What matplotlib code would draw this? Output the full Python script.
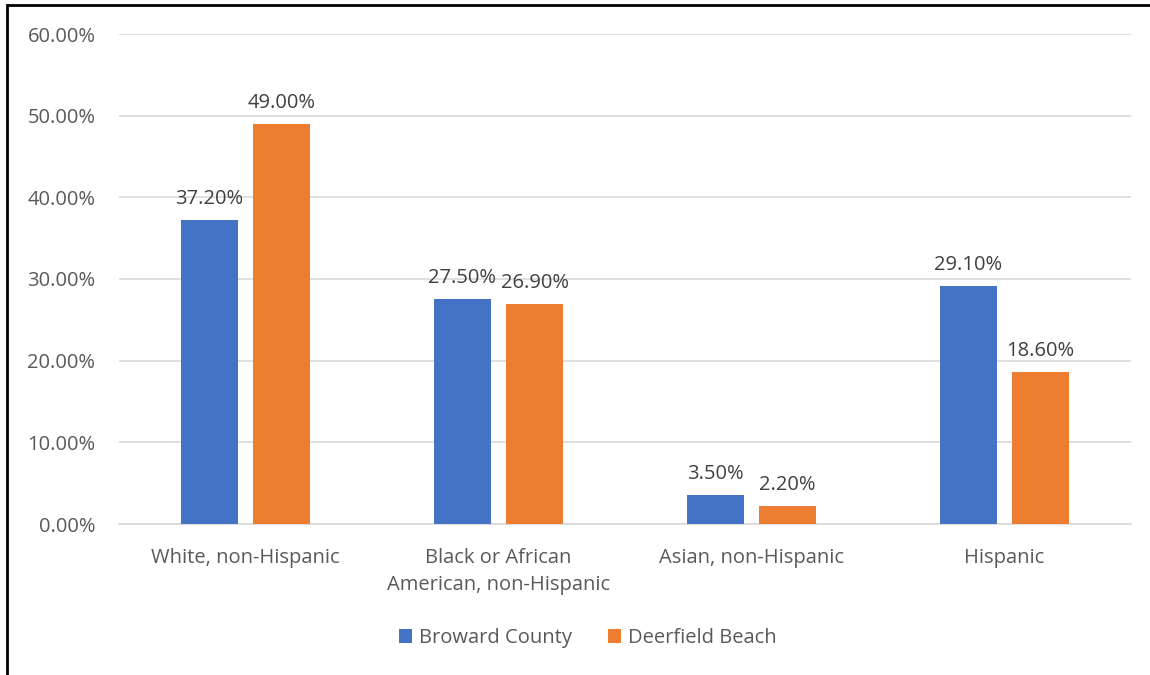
import matplotlib
matplotlib.use("Agg")
import matplotlib.pyplot as plt
from matplotlib.patches import Rectangle
import numpy as np

categories = ["White, non-Hispanic", "Black or African\nAmerican, non-Hispanic",
              "Asian, non-Hispanic", "Hispanic"]
broward = [37.2, 27.5, 3.5, 29.1]
deerfield = [49.0, 26.9, 2.2, 18.6]
series_names = ["Broward County", "Deerfield Beach"]
yticks = [0, 10, 20, 30, 40, 50, 60]

blue = "#4472C4"
orange = "#ED7D31"
text_gray = "#595959"
label_gray = "#404040"
fs = 14.5

plt.rcParams['font.family'] = ['Open Sans', 'DejaVu Sans']

fig = plt.figure(figsize=(11.5, 6.75), dpi=100)
ax = fig.add_axes([119/1150, 1 - 524/675, (1131-119)/1150, (524-34)/675])

x = np.arange(len(categories))
w = 0.225
gap = 0.06
off = (w + gap) / 2
b1 = ax.bar(x - off, broward, w, color=blue, label=series_names[0], zorder=3)
b2 = ax.bar(x + off, deerfield, w, color=orange, label=series_names[1], zorder=3)

for bars, vals in ((b1, broward), (b2, deerfield)):
    for r, v in zip(bars, vals):
        ax.annotate(f"{v:.2f}%", (r.get_x() + r.get_width() / 2, v),
                    xytext=(0, 8), textcoords="offset points",
                    ha="center", va="bottom", fontsize=fs, color=label_gray)

ax.set_xlim(-0.5, len(categories) - 0.5)
ax.set_ylim(0, 60)
ax.set_yticks(yticks)
ax.set_yticklabels([f"{t:.2f}%" for t in yticks])
ax.set_xticks(x)
ax.set_xticklabels(categories, linespacing=1.5)
ax.tick_params(axis="both", length=0, labelsize=fs, labelcolor=text_gray)
ax.tick_params(axis="y", pad=17)
ax.tick_params(axis="x", pad=17)
ax.grid(axis="y", color="#D9D9D9", linewidth=1.2, zorder=0)
for s in ("top", "right", "left"):
    ax.spines[s].set_visible(False)
ax.spines["bottom"].set_color("#D9D9D9")
ax.spines["bottom"].set_linewidth(1.2)

leg = fig.legend(handles=[b1, b2], labels=series_names, loc="center",
                 bbox_to_anchor=(588/1150, 1 - 638/675), ncol=2, frameon=False,
                 fontsize=fs, handlelength=0.65, handleheight=0.65,
                 handletextpad=0.35, columnspacing=1.8)
for t in leg.get_texts():
    t.set_color(text_gray)

# outer frame
fig.add_artist(Rectangle((7/1150, -0.05), 1.2, 1 - 5/675 + 0.05,
                         transform=fig.transFigure, fill=False,
                         edgecolor="black", linewidth=2))

fig.savefig("out.png", dpi=100)
